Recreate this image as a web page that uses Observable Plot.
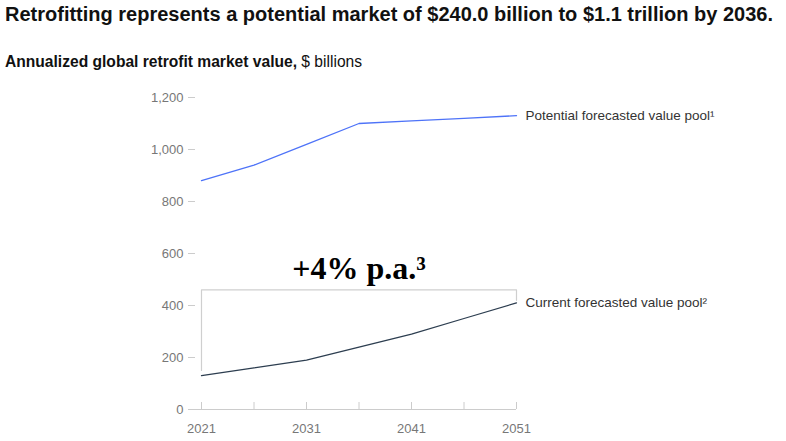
<!DOCTYPE html>
<html>
<head>
<meta charset="utf-8">
<script src="https://cdn.jsdelivr.net/npm/d3@7"></script>
<script src="https://cdn.jsdelivr.net/npm/@observablehq/plot@0.6"></script>
<style>
  html, body { margin: 0; padding: 0; background: #fff; width: 786px; height: 441px; overflow: hidden; }
  body { position: relative; font-family: "Liberation Sans", Arial, sans-serif; color: #000; }
  #title { position: absolute; left: 5px; top: 3px; font-size: 20px; font-weight: 700; white-space: nowrap; color: #111; }
  #subtitle { position: absolute; left: 5px; top: 53px; font-size: 15.6px; white-space: nowrap; color: #111; }
  #subtitle b { font-weight: 700; }
  #chart { position: absolute; left: 0; top: 80px; }
</style>
</head>
<body>
<div id="title">Retrofitting represents a potential market of $240.0 billion to $1.1 trillion by 2036.</div>
<div id="subtitle"><b>Annualized global retrofit market value,</b> $ billions</div>
<div id="chart"></div>
<script>
const years = [2021, 2026, 2031, 2036, 2041, 2046, 2051];
const potential = [880, 940, 1020, 1100, 1110, 1120, 1130];
const current = [130, 160, 190, 240, 290, 350, 410];
const seriesNames = ["Potential forecasted value pool¹", "Current forecasted value pool²"];
const yTicks = [0, 200, 400, 600, 800, 1000, 1200];
const xMinorTicks = [2021, 2026, 2031, 2036, 2041, 2046, 2051];
const xLabelTicks = [2021, 2031, 2041, 2051];
const bracketX = [2021, 2021, 2051, 2051];
const bracketY = [150, 460, 460, 420];
const growthLabel = "+4% p.a.³";
const growthLabelX = 2036;
const growthLabelY = 540;

const potData = years.map((y, i) => ({year: y, value: potential[i]}));
const curData = years.map((y, i) => ({year: y, value: current[i]}));
const bracket = bracketX.map((x, i) => ({year: x, value: bracketY[i]}));
const endLabels = [
  {year: years[years.length - 1], value: potential[potential.length - 1], name: seriesNames[0]},
  {year: years[years.length - 1], value: current[current.length - 1], name: seriesNames[1]}
];

const chart = Plot.plot({
  width: 786,
  height: 361,
  marginLeft: 201,
  marginRight: 270,
  marginTop: 17,
  marginBottom: 32,
  style: {fontFamily: "Liberation Sans, Arial, sans-serif", fontSize: "13px", color: "#777", background: "#fff"},
  x: {domain: [2021, 2051]},
  y: {domain: [0, 1200]},
  marks: [
    Plot.axisY({ticks: yTicks, tickSize: 7, tickPadding: 5, dx: -6, stroke: "#ccc", fill: "#777", label: null, fontSize: 13}),
    Plot.axisX({ticks: xMinorTicks, tickSize: 7, dy: -7, text: null, stroke: "#ccc", label: null}),
    Plot.axisX({ticks: xLabelTicks, tickSize: 0, tickPadding: 14, tickFormat: d => String(d), fill: "#777", label: null, fontSize: 13}),
    Plot.ruleY([0], {stroke: "#ccc", insetLeft: -13}),
    Plot.line(bracket, {x: "year", y: "value", stroke: "#cfcfcf", strokeWidth: 1.2, curve: "linear"}),
    Plot.line(potData, {x: "year", y: "value", stroke: "#4e73f8", strokeWidth: 1.3}),
    Plot.line(curData, {x: "year", y: "value", stroke: "#2d3e50", strokeWidth: 1.3}),
    Plot.text(endLabels, {x: "year", y: "value", text: "name", textAnchor: "start", dx: 9, fill: "#333", fontSize: 13.5}),
    Plot.text([growthLabel], {x: () => growthLabelX, y: () => growthLabelY, text: d => d, fill: "#000", fontSize: 32, fontWeight: "bold", fontFamily: "Liberation Serif, DejaVu Serif, serif", textAnchor: "middle"})
  ]
});
document.getElementById("chart").appendChild(chart);
</script>
</body>
</html>
